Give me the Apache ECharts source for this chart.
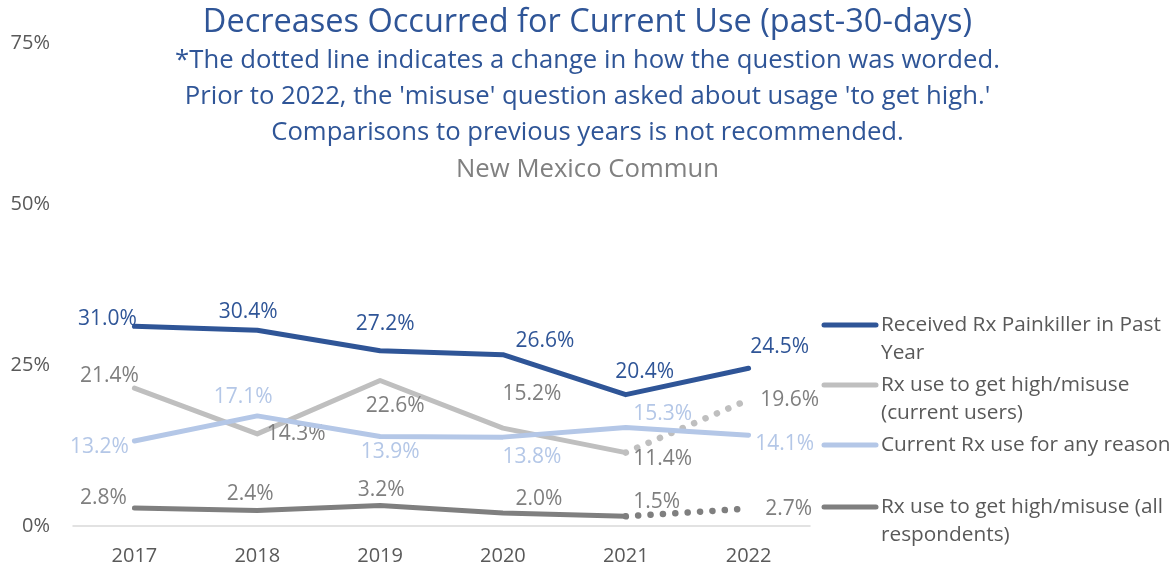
<!DOCTYPE html>
<html>
<head>
<meta charset="utf-8">
<script src="https://cdn.jsdelivr.net/npm/echarts@6/dist/echarts.min.js"></script>
<style>
  html, body { margin: 0; padding: 0; background: #fff; }
  #chart { width: 1175px; height: 571px; }
</style>
</head>
<body>
<div id="chart"></div>
<script>
// Survey years
const years = ['2017', '2018', '2019', '2020', '2021', '2022'];
// Y axis ticks (percent)
const yTicks = [0, 25, 50, 75];

// Series values (percent). The misuse question was reworded in 2022,
// so those series split into a solid run (2017-2021) and a dotted 2021-2022 step.
const painkillerPastYear = [31.0, 30.4, 27.2, 26.6, 20.4, 24.5];
const misuseCurrentUsers = [21.4, 14.3, 22.6, 15.2, 11.4, null];
const misuseCurrentUsersNew = [null, null, null, null, 11.4, 19.6];
const currentAnyReason = [13.2, 17.1, 13.9, 13.8, 15.3, 14.1];
const misuseAllRespondents = [2.8, 2.4, 3.2, 2.0, 1.5, null];
const misuseAllRespondentsNew = [null, null, null, null, 1.5, 2.7];

const seriesNames = [
  'Received Rx Painkiller in Past Year',
  'Rx use to get high/misuse (current users)',
  'Current Rx use for any reason',
  'Rx use to get high/misuse (all respondents)'
];
const legendLines = [
  ['Received Rx Painkiller in Past', 'Year'],
  ['Rx use to get high/misuse', '(current users)'],
  ['Current Rx use for any reason'],
  ['Rx use to get high/misuse (all', 'respondents)']
];

const titleText = 'Decreases Occurred for Current Use (past-30-days)';
const noteLines = [
  "*The dotted line indicates a change in how the question was worded.",
  "Prior to 2022, the 'misuse' question asked about usage 'to get high.'",
  "Comparisons to previous years is not recommended."
];
const sourceText = 'New Mexico Commun';

const FONT = '"Open Sans", "Noto Sans", sans-serif';
const C_DARKBLUE = '#2F5597';
const C_GRAY = '#BFBFBF';
const C_LIGHTBLUE = '#B4C7E7';
const C_DARKGRAY = '#7F7F7F';
const C_TEXT = '#595959';
const C_LABELGRAY = '#7F7F7F';

// Label offsets (px) from each point, hand-placed to avoid overlaps
const offPainkiller = [[-27, -7], [-9, -18], [5, -27], [42, -14], [19, -23], [31, -21]];
const offMisuseUsers = [[-25, -12], [39, 0], [15, 26], [29, -34], [37, 6], [41, 0]];
const offAny = [[-35, 6], [-14, -19], [10, 16], [29, 20], [37, -13], [36, 9]];
const offAll = [[-31, -10], [-7, -17], [1, -15], [36, -14], [31, -14], [40, 0]];

function labelStyle(offset, color) {
  return {
    show: true,
    position: 'inside',
    align: 'center',
    verticalAlign: 'middle',
    offset: offset,
    color: color,
    fontFamily: FONT,
    fontSize: 21,
    formatter: p => p.value.toFixed(1) + '%'
  };
}

function withLabels(values, offsets, color) {
  return values.map((v, i) => v === null ? null : { value: v, label: labelStyle(offsets[i], color) });
}

// Dotted step: label only on the 2022 value
function dottedWithLabel(values, offsets, color) {
  const last = values.length - 1;
  return values.map((v, i) => {
    if (v === null) return null;
    if (i < last) return { value: v, label: { show: false } };
    return { value: v, label: labelStyle(offsets[i], color) };
  });
}

const chart = echarts.init(document.getElementById('chart'), null, { renderer: 'canvas' });

const titles = [
  {
    text: titleText, left: 'center', top: 1,
    textStyle: { color: C_DARKBLUE, fontFamily: FONT, fontSize: 32.5, fontWeight: 'normal' }
  }
];
noteLines.forEach((t, i) => {
  titles.push({
    text: t, left: 'center', top: 43 + i * 36,
    textStyle: { color: C_DARKBLUE, fontFamily: FONT, fontSize: 25.7, fontWeight: 'normal' }
  });
});
titles.push({
  text: sourceText, left: 'center', top: 152,
  textStyle: { color: '#808080', fontFamily: FONT, fontSize: 25.7, fontWeight: 'normal' }
});

// Legend drawn as line swatches with wrapped names
const legendTop = [325, 385, 445, 507];
const legendColors = [C_DARKBLUE, C_GRAY, C_LIGHTBLUE, C_DARKGRAY];
const legendGraphics = [];
legendLines.forEach((lines, i) => {
  legendGraphics.push({
    type: 'line',
    shape: { x1: 824, y1: legendTop[i], x2: 876, y2: legendTop[i] },
    style: { stroke: legendColors[i], lineWidth: 5, lineCap: 'round' }
  });
  legendGraphics.push({
    type: 'text',
    x: 881, y: legendTop[i] - 14,
    style: {
      text: lines.join('\n'), fill: C_TEXT, font: '20.8px ' + FONT,
      lineHeight: 28, textVerticalAlign: 'top'
    }
  });
});

const lineBase = {
  type: 'line', symbol: 'circle', symbolSize: 2, showSymbol: true,
  smooth: false, connectNulls: false, silent: true
};

function solid(name, data, color, z) {
  return Object.assign({}, lineBase, {
    name: name, data: data, z: z,
    itemStyle: { color: 'rgba(0,0,0,0)', borderWidth: 0 },
    lineStyle: { color: color, width: 5, cap: 'round', join: 'round' }
  });
}
function dotted(name, data, color, z) {
  return Object.assign({}, lineBase, {
    name: name, data: data, z: z,
    itemStyle: { color: 'rgba(0,0,0,0)', borderWidth: 0 },
    lineStyle: { color: color, width: 6.5, type: [0.1, 12.3], cap: 'round' }
  });
}

chart.setOption({
  animation: false,
  backgroundColor: '#ffffff',
  title: titles,
  grid: { left: 73, right: 365, top: 43, bottom: 45 },
  xAxis: {
    type: 'category',
    data: years,
    boundaryGap: true,
    axisLine: { show: true, lineStyle: { color: '#D9D9D9', width: 1.5 } },
    axisTick: { show: false },
    axisLabel: { color: C_TEXT, fontFamily: FONT, fontSize: 20, margin: 20 }
  },
  yAxis: {
    type: 'value',
    min: yTicks[0],
    max: yTicks[yTicks.length - 1],
    interval: yTicks[1] - yTicks[0],
    splitLine: { show: false },
    axisLine: { show: false },
    axisTick: { show: false },
    axisLabel: { color: C_TEXT, fontFamily: FONT, fontSize: 20, margin: 23, formatter: '{value}%' }
  },
  graphic: legendGraphics,
  series: [
    dotted(seriesNames[1] + ' (2022 wording)',
      dottedWithLabel(misuseCurrentUsersNew, offMisuseUsers, C_LABELGRAY), C_GRAY, 2),
    dotted(seriesNames[3] + ' (2022 wording)',
      dottedWithLabel(misuseAllRespondentsNew, offAll, C_LABELGRAY), C_DARKGRAY, 2),
    solid(seriesNames[3], withLabels(misuseAllRespondents, offAll, C_LABELGRAY), C_DARKGRAY, 3),
    solid(seriesNames[1], withLabels(misuseCurrentUsers, offMisuseUsers, C_LABELGRAY), C_GRAY, 3),
    solid(seriesNames[2], withLabels(currentAnyReason, offAny, C_LIGHTBLUE), C_LIGHTBLUE, 4),
    solid(seriesNames[0], withLabels(painkillerPastYear, offPainkiller, C_DARKBLUE), C_DARKBLUE, 5)
  ]
});
</script>
</body>
</html>
